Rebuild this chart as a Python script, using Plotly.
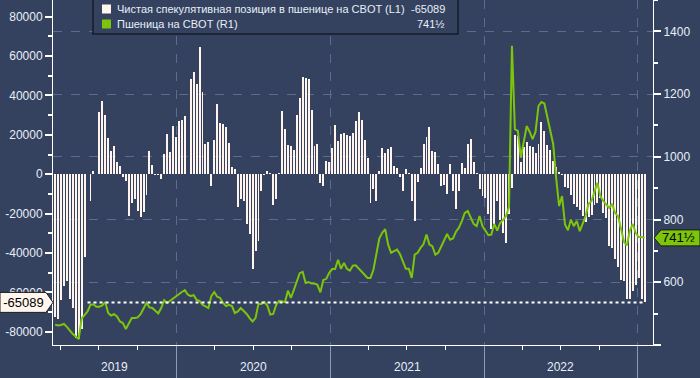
import pandas as pd
import plotly.graph_objects as go

# ---------------- data ----------------
start_date = "2019-03-19"  # weekly COT reports (Tuesdays)

net_position = [
    -72600, -73300, -63800, -56900, -54300, -63300, -67900, -83100, -83600, -78400,
    -42000, None, -13700, 1400, None, 31500, 37100, 30000, 18300, 11700,
    14200, 6100, 4100, -1500, -3200, -21300, -14600, -12500, -18800, -21700,
    -19100, -10700, 11700, 4600,
    -300, -300, -2400, 10200, 20300, 11200, 24400, 18800, 26900, 27400,
    29500, None, 48200, 51800, 45700, 64500, 41600, 15200, 16300, -5900,
    17300, 35600, 25900, 25400, 23900, 15700, 3600, 2700, -16600, -12500,
    -13700, -25200, -30300, -48100,
    -38900, -33900, -8500, -300, 1400, 800, -15600, -12500, 800, 32000,
    22900, 14700, 14200, 12200, 30000, 38600, 49300, 48800, 48200, 32500,
    14200, 15200, -4600, -6100, 6600, 6100, 13200, 24900, 16800, 20300,
    20800, 19800, 19300, 20800,
    26900, 31500, 27400, 17300, 8100, -14700, -7600, -13700, 1500, 13200,
    10700, 12700, 13700, 4100, 3000, -1500, -8600, 2500, 500, -13700,
    -23900, -4100, 3000, 15200, 18800, 23900, 11700, 11200, 5100, -6100,
    -5600, -10200, 5100, -8600,
    -17800, -8600, 5600, 3000, 15200, 17800, 6100, 500, -7600, -11200,
    -12200, -20300, -27900, -25400, -13700, -23400, -30000, -35000, -20000, -7100,
    19800, 19300, 6100, 13700, 16300, 14200, 13700, 10700, 15200, 26400,
    21800, 14700, 12200,
    6600, 3600, 1000, -300, -6600, -7100, -10700, -15200, -16800, -18300,
    -21300, -24400, -21800, -20800, -15700, -14700, -12200, -19800, -22300, -36600,
    -37600, -43200, -47200, -53800, -54300, -63500, -63500, -59400, -56400, -52800,
    -63500, -65089,
]

wheat_price = [
    465, 462, 464, 467, 458, 445, 435, 427, 419, 484,
    496, 507, 528, 530, 522, 522, 526, 537, 502, 494,
    498, 491, 475, 470, 451, 470, 486, 486, 488, 498,
    518, 534, 520, 518,
    509, 501, 518, 543, 534, 541, 550, 556, 563, 569,
    575, 561, 556, 559, 544, 541, 528, 522, 518, 556,
    569, 554, 550, 534, 524, 528, 524, 502, 507, 518,
    509, 499, 486, 475,
    486, 531, 531, 537, 526, 497, 499, 528, 541, 539,
    537, 573, 550, 576, 601, 629, 633, 598, 601, 596,
    596, 592, 568, 607, 611, 630, 642, 642, 672, 643,
    662, 643, 637, 653,
    654, 643, 633, 624, 614, 614, 640, 694, 740, 758,
    769, 720, 694, 699, 704, 690, 667, 643, 643, 614,
    688, 694, 710, 722, 752, 720, 715, 688, 694, 715,
    731, 754, 736, 740,
    761, 774, 795, 821, 827, 805, 786, 779, 811, 779,
    765, 750, 752, 786, 765, 789, 799, 811, 840, 1354,
    1088, 1083, 997, 1050, 1098, 1080, 1056, 1080, 1162, 1175,
    1170, 1127, 1080,
    1040, 933, 843, 875, 784, 766, 800, 779, 795, 763,
    786, 811, 850, 859, 889, 917, 875, 859, 848, 837,
    850, 821, 811, 768, 729, 718, 765, 786, 757, 744,
    744, 741.5,
]

series_names = ["Чистая спекулятивная позиция в пшенице на CBOT (L1)", "Пшеница на CBOT (R1)"]
last_net = -65089
last_net_text = "-65089"
last_price = 741.5
last_price_text = "741½"

left_ticks = list(range(-80000, 80001, 20000))
left_ticktext = [str(v) for v in left_ticks]
right_ticks = list(range(400, 1401, 200))
right_ticktext = ["" if v == 400 else str(v) for v in right_ticks]
year_labels = ["2019", "2020", "2021", "2022"]
year_label_dates = ["2019-08-08", "2020-07-02", "2021-07-02", "2022-07-02"]

# ---------------- style ----------------
BG = "#34425F"
BAR = "#FFF4EE"
LABEL_BG = "#FFF6EE"
GREEN = "#7CC50A"
GRID = "#5B6C8F"
TXT = "#E8EEF8"
FONT = "Liberation Sans"

dates = pd.date_range(start_date, periods=len(net_position), freq="7D")
week_ms = 7 * 24 * 3600 * 1000

fig = go.Figure()
fig.add_trace(go.Bar(x=dates, y=net_position, marker=dict(color=BAR, line=dict(width=0)),
                     width=week_ms * 0.66, yaxis="y", name=series_names[0], showlegend=False))
fig.add_trace(go.Scatter(x=dates, y=wheat_price, mode="lines", line=dict(color=GREEN, width=2),
                         yaxis="y2", name=series_names[1], showlegend=False))

W, H = 700, 378
ML, MR, MT, MB = 53, 47, 0, 33
PW, PH = W - ML - MR, H - MT - MB


def px_x(p):
    return (p - ML) / PW


def px_y(p):
    return (H - MB - p) / PH


shapes = []
annotations = []

# dotted line at last net position
shapes.append(dict(type="line", xref="x", yref="y", x0=dates[11], x1=dates[-1], y0=last_net, y1=last_net,
                   line=dict(color="white", width=2, dash="dot"), layer="above"))

# left value label (pentagon)
yl_range = [-86730, 88450]
unit_y = (yl_range[1] - yl_range[0]) / PH
h = 10 * unit_y
x0, xr, tip = px_x(0), px_x(46), px_x(53)
shapes.append(dict(type="path", xref="paper", yref="y",
                   path=f"M {x0},{last_net - h} L {xr},{last_net - h} L {tip},{last_net} L {xr},{last_net + h} L {x0},{last_net + h} Z",
                   fillcolor=LABEL_BG, line=dict(color="#1A1A1A", width=1), layer="above"))
annotations.append(dict(xref="paper", yref="y", x=px_x(23), y=last_net, text=last_net_text,
                        xanchor="center", yanchor="middle", showarrow=False,
                        bgcolor=LABEL_BG, width=43, height=18, borderpad=0, borderwidth=0,
                        font=dict(family=FONT, size=13, color="black")))

# right value label (pentagon)
yr_range = [400, 1500]
unit_y2 = (yr_range[1] - yr_range[0]) / PH
h2 = 8 * unit_y2
t2, r0, r1 = px_x(654), px_x(661), px_x(700)
shapes.append(dict(type="path", xref="paper", yref="y2",
                   path=f"M {t2},{last_price} L {r0},{last_price - h2} L {r1},{last_price - h2} L {r1},{last_price + h2} L {r0},{last_price + h2} Z",
                   fillcolor=GREEN, line=dict(color="#1A1A1A", width=1), layer="above"))
annotations.append(dict(xref="paper", yref="y2", x=px_x(679), y=last_price, text=last_price_text,
                        xanchor="center", yanchor="middle", showarrow=False,
                        font=dict(family=FONT, size=13, color="black")))

# legend box
shapes.append(dict(type="rect", xref="paper", yref="paper", x0=px_x(93), x1=px_x(458), y0=px_y(34), y1=px_y(-3),
                   fillcolor=BG, line=dict(color="#141B2A", width=1.5), layer="above"))
legend_rows = [(9, BAR, series_names[0], last_net_text), (24, GREEN, series_names[1], last_price_text)]
for yc, col, name, val in legend_rows:
    shapes.append(dict(type="rect", xref="paper", yref="paper", x0=px_x(102), x1=px_x(111),
                       y0=px_y(yc + 4.5), y1=px_y(yc - 4.5), fillcolor=col, line=dict(width=0), layer="above"))
    annotations.append(dict(xref="paper", yref="paper", x=px_x(115), y=px_y(yc), text=name, showarrow=False,
                            xanchor="left", yanchor="middle", font=dict(family=FONT, size=11, color=TXT)))
    annotations.append(dict(xref="paper", yref="paper", x=px_x(447), y=px_y(yc), text=val, showarrow=False,
                            xanchor="right", yanchor="middle", font=dict(family=FONT, size=11, color=TXT)))

# year labels
for lab, d in zip(year_labels, year_label_dates):
    annotations.append(dict(xref="x", yref="paper", x=d, y=px_y(367), text=lab, showarrow=False,
                            xanchor="center", yanchor="middle", font=dict(family=FONT, size=12, color=TXT)))

fig.update_layout(
    width=W, height=H,
    margin=dict(l=ML, r=MR, t=MT, b=MB, pad=0),
    paper_bgcolor=BG, plot_bgcolor=BG,
    font=dict(family=FONT, size=12, color=TXT),
    bargap=0,
    showlegend=False,
    hovermode=False,
    xaxis=dict(type="date", range=["2019-03-14", "2023-02-06"],
               showline=True, linecolor="white", linewidth=1,
               ticks="outside", tick0="2019-01-01", dtick="M12", ticklen=33, tickwidth=1,
               tickcolor="#8E9AB0", showticklabels=False,
               showgrid=True, gridcolor=GRID, griddash="dash", gridwidth=1,
               minor=dict(dtick="M3", tick0="2019-01-01", ticks="outside", ticklen=4,
                          tickcolor="white", showgrid=False),
               zeroline=False),
    yaxis=dict(range=yl_range, tickmode="array", tickvals=left_ticks, ticktext=left_ticktext,
               showline=True, linecolor="white", linewidth=1, ticks="outside", ticklen=7, tickwidth=2,
               tickcolor="white", showgrid=False, zeroline=False,
               tickfont=dict(family=FONT, size=12, color=TXT),
               minor=dict(dtick=10000, tick0=0, ticks="outside", ticklen=4, tickcolor="white", showgrid=False)),
    yaxis2=dict(range=yr_range, overlaying="y", side="right", tickmode="array", tickvals=right_ticks,
                ticktext=right_ticktext, showline=True, linecolor="white", linewidth=1,
                ticks="outside", ticklen=7, tickwidth=2, tickcolor="white",
                showgrid=True, gridcolor=GRID, griddash="dash", gridwidth=1, zeroline=False,
                tickfont=dict(family=FONT, size=12, color=TXT),
                minor=dict(dtick=100, tick0=0, ticks="outside", ticklen=4, tickcolor="white", showgrid=False)),
    shapes=shapes,
    annotations=annotations,
)

fig.write_html("out.html", config={"displayModeBar": False, "staticPlot": True},
               post_script="document.body.style.margin='0';document.body.style.overflow='hidden';")
